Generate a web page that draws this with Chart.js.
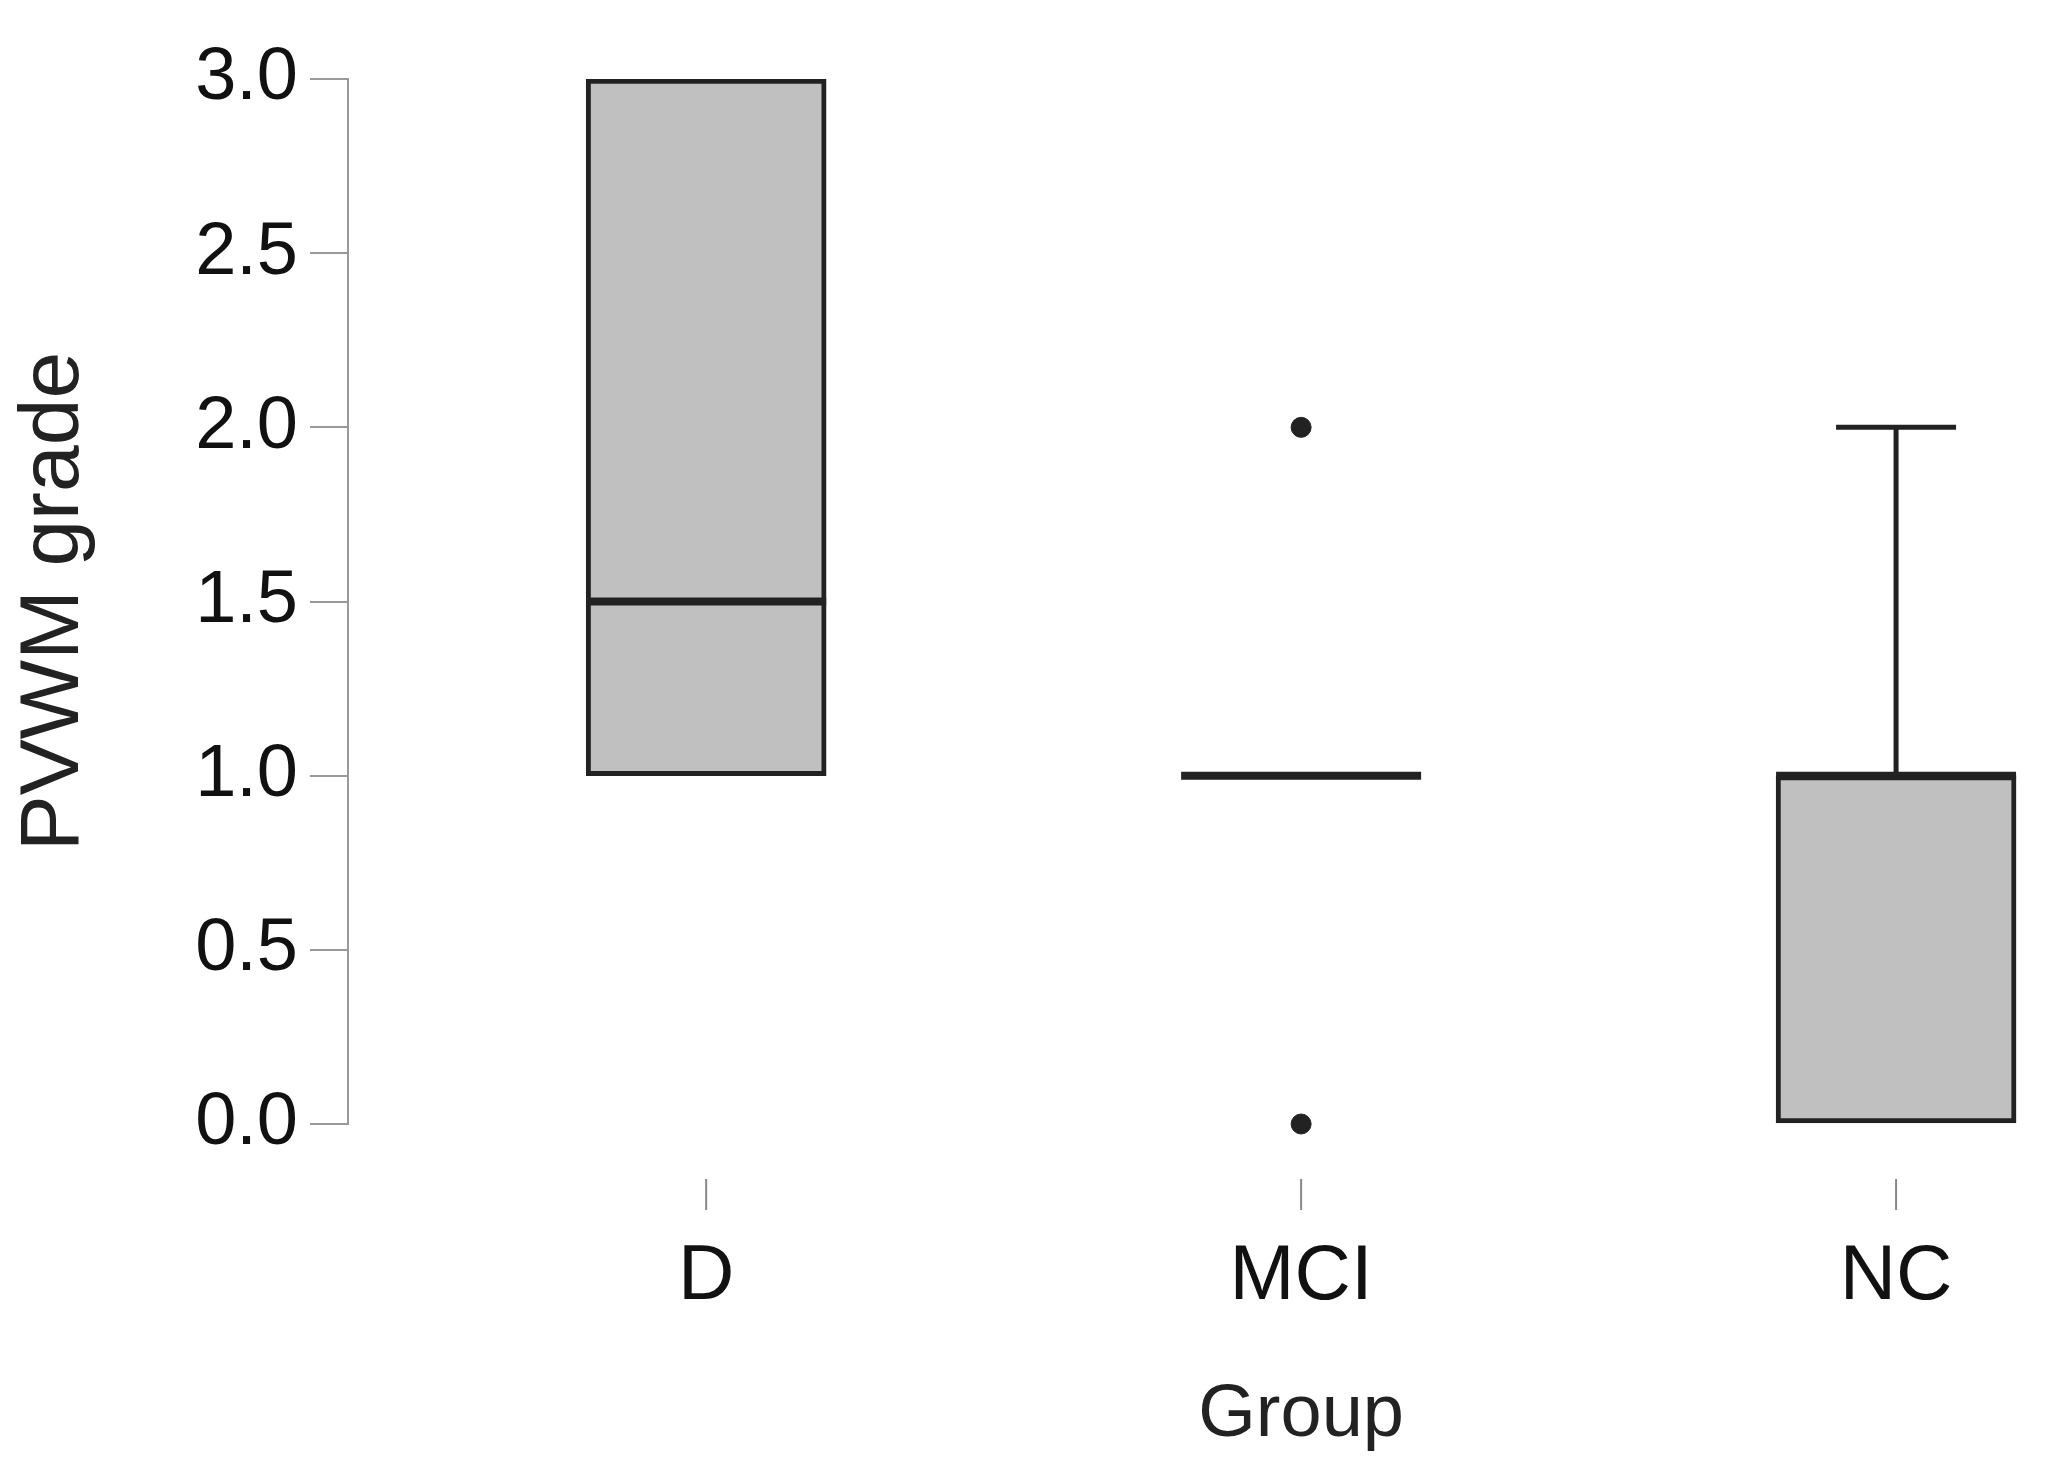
<!DOCTYPE html>
<html><head><meta charset="utf-8">
<script src="https://cdn.jsdelivr.net/npm/chart.js@4"></script>
<style>html,body{margin:0;background:#fff}#w{width:2051px;height:1480px}</style>
</head><body><div id="w"><canvas id="c"></canvas></div>
<script>
const groups = ["D", "MCI", "NC"];
const mins = [1, 1, 0];
const q1s = [1, 1, 0];
const medians = [1.5, 1, 1];
const q3s = [3, 1, 1];
const maxs = [3, 1, 2];
const outliers = [[], [0, 2], []];
const yTicks = [0, 0.5, 1, 1.5, 2, 2.5, 3];

const xPos = groups.map((g, i) => i + 1);
const boxData = xPos.map((x, i) => ({x: x, y: [q1s[i], q3s[i]]}));
const outData = [];
outliers.forEach((arr, i) => arr.forEach(v => outData.push({x: xPos[i], y: v})));
const FONT = '"Liberation Sans", Arial, sans-serif';

const boxPlugin = {
  id: 'boxextra',
  afterDatasetsDraw(chart) {
    const ctx = chart.ctx, xs = chart.scales.x, ys = chart.scales.y;
    const half = 120;
    ctx.save();
    ctx.strokeStyle = '#222';
    groups.forEach((g, i) => {
      const cx = xs.getPixelForValue(xPos[i]);
      ctx.lineWidth = 5;
      ctx.beginPath();
      ctx.moveTo(cx, ys.getPixelForValue(q3s[i])); ctx.lineTo(cx, ys.getPixelForValue(maxs[i]));
      ctx.moveTo(cx, ys.getPixelForValue(q1s[i])); ctx.lineTo(cx, ys.getPixelForValue(mins[i]));
      ctx.stroke();
      if (maxs[i] > q3s[i]) { const y = ys.getPixelForValue(maxs[i]); ctx.beginPath(); ctx.moveTo(cx - 60, y); ctx.lineTo(cx + 60, y); ctx.stroke(); }
      if (mins[i] < q1s[i]) { const y = ys.getPixelForValue(mins[i]); ctx.beginPath(); ctx.moveTo(cx - 60, y); ctx.lineTo(cx + 60, y); ctx.stroke(); }
      ctx.lineWidth = 8;
      const my = ys.getPixelForValue(medians[i]);
      ctx.beginPath(); ctx.moveTo(cx - half, my); ctx.lineTo(cx + half, my); ctx.stroke();
      const yb = ys.getPixelForValue(0);
      ctx.strokeStyle = '#888'; ctx.lineWidth = 2;
      ctx.beginPath(); ctx.moveTo(cx, yb + 55); ctx.lineTo(cx, yb + 86); ctx.stroke();
      ctx.strokeStyle = '#222';
      ctx.fillStyle = '#111'; ctx.font = '78px ' + FONT;
      ctx.textAlign = 'center'; ctx.textBaseline = 'middle';
      ctx.fillText(g, cx, yb + 153);
    });
    ctx.font = '74px ' + FONT;
    ctx.fillStyle = '#222';
    ctx.fillText('Group', xs.getPixelForValue(2), ys.getPixelForValue(0) + 292);
    ctx.restore();
  }
};

new Chart(document.getElementById('c'), {
  data: {
    datasets: [
      {type: 'bar', data: boxData, backgroundColor: '#c0c0c0', borderColor: '#222', borderWidth: 5, borderSkipped: false, barThickness: 240, order: 2},
      {type: 'scatter', data: outData, backgroundColor: '#222', borderColor: '#222', pointRadius: 10, clip: false, order: 1}
    ]
  },
  options: {
    responsive: true, maintainAspectRatio: false, animation: false,
    layout: {padding: {top: 79, right: 30, bottom: 356, left: 0}},
    plugins: {legend: {display: false}, tooltip: {enabled: false}},
    scales: {
      x: {type: 'linear', min: 0.398, max: 3.21, display: false, offset: false},
      y: {
        min: 0, max: 3,
        afterFit(s) { s.width = 348; },
        afterBuildTicks(s) { s.ticks = yTicks.map(v => ({value: v})); },
        ticks: {callback: v => v.toFixed(1), color: '#111', font: {size: 74, family: FONT}, padding: 12},
        grid: {drawOnChartArea: false, tickLength: 38, color: '#999', lineWidth: 2},
        border: {color: '#999', width: 2},
        title: {display: true, text: 'PVWM grade', color: '#222', font: {size: 84, family: FONT}, padding: {bottom: 0}}
      }
    }
  },
  plugins: [boxPlugin]
});
</script></body></html>
